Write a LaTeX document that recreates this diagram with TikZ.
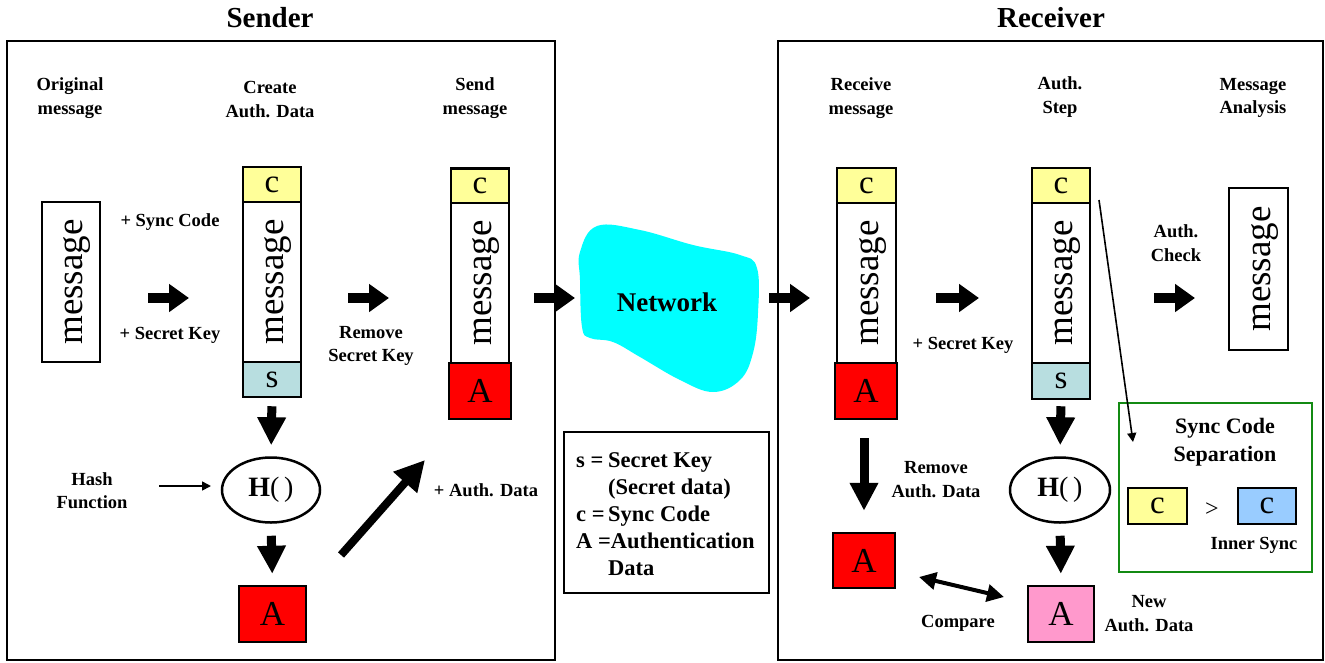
\documentclass[tikz,border=0pt]{standalone}
\usepackage{fontspec}
\setmainfont{Liberation Serif}
\usetikzlibrary{arrows.meta,shapes.geometric}

\definecolor{syncyellow}{HTML}{FFFF99}
\definecolor{keyblue}{HTML}{B8DEE0}
\definecolor{authred}{HTML}{FF0000}
\definecolor{authpink}{HTML}{FF99CC}
\definecolor{innerblue}{HTML}{99CCFF}
\definecolor{netcyan}{HTML}{00FFFF}
\definecolor{sepgreen}{HTML}{138A13}

\begin{document}
\begin{tikzpicture}[x=1pt,y=-1pt,
  frame/.style={draw, line width=2.5pt, inner sep=0pt},
  cell/.style={draw, line width=2.5pt, inner sep=0pt, minimum width=58pt},
  ccell/.style={cell, fill=syncyellow, minimum height=35pt, font=\fontsize{33}{33}\selectfont},
  scell/.style={cell, fill=keyblue, minimum height=35pt, font=\fontsize{33}{33}\selectfont},
  mcell/.style={cell, fill=white, minimum height=160pt, font=\fontsize{37}{37}\selectfont},
  acell/.style={cell, fill=authred, minimum width=62pt, minimum height=56pt, font=\fontsize{35}{35}\selectfont},
  hashfn/.style={draw, ellipse, line width=2.5pt, inner sep=0pt, minimum width=98pt, minimum height=65pt, font=\fontsize{28}{28}\selectfont},
  lbl/.style={align=center, inner sep=0pt, font=\bfseries\fontsize{18.5}{23.5}\selectfont},
  title/.style={inner sep=0pt, font=\bfseries\fontsize{29}{29}\selectfont},
  barrow/.style={line width=10pt, -{Triangle[length=20pt,width=27pt]}},
  varrow/.style={line width=9pt, -{Triangle[length=28pt,width=27pt]}},
  thinarrow/.style={line width=1.6pt, -{Triangle[length=9pt,width=9pt]}},
  twoway/.style={line width=4pt, {Triangle[length=17pt,width=17pt]}-{Triangle[length=17pt,width=17pt]}}
]
\useasboundingbox (0,0) rectangle (1325,662);

% ---------- outer frames and titles ----------
\node[frame, minimum width=548pt, minimum height=619pt] (sender) at (281,350.5) {};
\node[frame, minimum width=545pt, minimum height=619pt] (receiver) at (1050.5,350.5) {};
\node[title] (sendertitle) at (270,18) {Sender};
\node[title] (receivertitle) at (1051,18) {Receiver};

% ---------- network cloud ----------
\fill[netcyan] plot[smooth cycle, tension=0.65] coordinates {
  (580,252) (597,226) (640,230) (693,245) (740,255) (757,268)
  (758,313) (753,353) (740,380) (713,392) (680,380) (640,357)
  (613,342) (590,338) (582,327) (580,280)};
\node[inner sep=0pt, font=\bfseries\fontsize{27}{27}\selectfont] (network) at (667,302) {Network};

% ---------- legend ----------
\node[frame, minimum width=205pt, minimum height=161pt] (legend) at (666.5,512.5) {};
\node[anchor=west, inner sep=0pt, align=left, font=\bfseries\fontsize{22.5}{27}\selectfont] (legendtext) at (576,514)
  {\makebox[32pt][l]{s =}Secret Key\\
   \hspace*{32pt}(Secret data)\\
   \makebox[32pt][l]{c =}Sync Code\\
   A =Authentication\\
   \hspace*{32pt}Data};

% ---------- sender: column labels ----------
\node[lbl] (l1) at (70,98) {Original\\message};
\node[lbl] (l2) at (270,99.5) {Create\\Auth. Data};
\node[lbl] (l3) at (475,98) {Send\\message};
\node[lbl] (l4) at (170,222) {+ Sync Code};
\node[lbl] (l5) at (170,335) {+ Secret Key};
\node[lbl] (l6) at (371,346) {Remove\\Secret Key};
\node[lbl] (l7) at (92,490.5) {Hash\\Function};
\node[lbl] (l8) at (486,490) {+ Auth. Data};

% ---------- sender: message blocks ----------
\node[mcell] (orig) at (71,282) {\hspace{12pt}\rotatebox{90}{message}};

\node[ccell] (cc) at (272,184.5) {c};
\node[mcell] (cm) at (272,282) {\hspace{12pt}\rotatebox{90}{message}};
\node[scell] (cs) at (272,379.5) {s};

\node[ccell] (sc) at (480,186) {c};
\node[mcell] (sm) at (480,283) {\hspace{12pt}\rotatebox{90}{message}};
\node[acell] (sa) at (480,391) {A};

\node[hashfn] (h1) at (271,490) {\textbf{H}(\,)};
\node[acell, minimum width=67pt] (a1) at (272.5,614) {A};

% ---------- receiver: column labels ----------
\node[lbl] (r1) at (861,98) {Receive\\message};
\node[lbl] (r2) at (1060,97) {Auth.\\Step};
\node[lbl] (r3) at (1253,98) {Message\\Analysis};
\node[lbl] (r4) at (1176,243) {Auth.\\Check};
\node[lbl] (r5) at (963,345) {+ Secret Key};
\node[lbl] (r6) at (936,479.5) {Remove\\Auth. Data};
\node[lbl] (r7) at (958,623) {Compare};
\node[lbl] (r8) at (1149,613.5) {New\\Auth. Data};

% ---------- receiver: message blocks ----------
\node[ccell, minimum width=59pt] (rc) at (866.5,185.5) {c};
\node[mcell, minimum width=59pt] (rm) at (866.5,283) {\hspace{12pt}\rotatebox{90}{message}};
\node[acell] (ra) at (866,391) {A};

\node[ccell] (tc) at (1061,185.5) {c};
\node[mcell] (tm) at (1061,283) {\hspace{12pt}\rotatebox{90}{message}};
\node[scell, minimum height=36pt] (ts) at (1061,381) {s};

\node[mcell, minimum width=59pt, minimum height=162pt] (final) at (1258.5,269) {\hspace{12pt}\rotatebox{90}{message}};

\node[hashfn, minimum width=100pt] (h2) at (1060,490) {\textbf{H}(\,)};
\node[acell, minimum height=55pt] (a2) at (864,560.5) {A};
\node[acell, fill=authpink, minimum width=66pt] (a3) at (1061,614) {A};

% ---------- sync code separation ----------
\node[frame, draw=sepgreen, minimum width=193pt, minimum height=169pt] (sep) at (1215.5,487.5) {};
\node[lbl, font=\bfseries\fontsize{22}{28}\selectfont] (septitle) at (1225,442) {Sync Code\\Separation};
\node[ccell, minimum width=59pt, minimum height=36pt] (sepc) at (1157.5,506) {c};
\node[ccell, fill=innerblue, minimum width=58pt, minimum height=36pt] (inc) at (1267,506) {c};
\node[inner sep=0pt, font=\fontsize{24}{24}\selectfont] (gt) at (1212,510) {>};
\node[lbl] (innerlbl) at (1254,545) {Inner Sync};

% ---------- arrow end points ----------
\coordinate (p1s) at (148,298);  \coordinate (p1e) at (189,298);
\coordinate (p2s) at (348,298);  \coordinate (p2e) at (389,298);
\coordinate (p3s) at (534,298);  \coordinate (p3e) at (575,298);
\coordinate (p4s) at (769,298);  \coordinate (p4e) at (810,298);
\coordinate (p5s) at (936,298);  \coordinate (p5e) at (979,298);
\coordinate (p6s) at (1154,298); \coordinate (p6e) at (1195,298);
\coordinate (diags) at (341,555); \coordinate (diage) at (425,460);
\coordinate (hashs) at (159,486); \coordinate (hashe) at (211,486);
\coordinate (syncs) at (1099,200); \coordinate (synce) at (1133,442);
\coordinate (cmps) at (919,577); \coordinate (cmpe) at (1004,597);

% ---------- arrows ----------
\draw[barrow] (p1s) -- (p1e);
\draw[barrow] (p2s) -- (p2e);
\draw[barrow] (p3s) -- (p3e);
\draw[barrow] (p4s) -- (p4e);
\draw[barrow] (p5s) -- (p5e);
\draw[barrow] (p6s) -- (p6e);

\draw[varrow, shorten <=8pt, shorten >=11pt] (cs.south) -- (h1.north);
\draw[varrow, shorten <=12pt, shorten >=11pt] (h1.south) -- (a1.north);
\draw[varrow, shorten <=6pt, shorten >=11pt] (ts.south) -- (h2.north);
\draw[varrow, shorten <=12pt, shorten >=11pt] (h2.south) -- (a3.north);
\draw[varrow, shorten <=18pt, shorten >=21pt] (a2.north |- ra.south) -- (a2.north);

\draw[line width=8pt, -{Triangle[length=30pt,width=30pt]}] (diags) -- (diage);
\draw[thinarrow] (hashs) -- (hashe);
\draw[thinarrow] (syncs) -- (synce);
\draw[twoway] (cmps) -- (cmpe);
\end{tikzpicture}
\end{document}
